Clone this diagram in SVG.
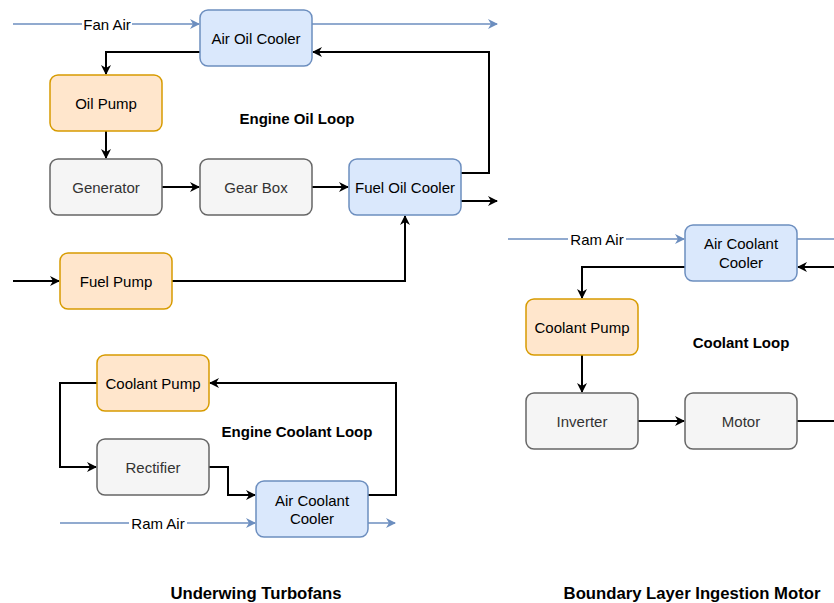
<svg xmlns="http://www.w3.org/2000/svg" width="834" height="603" viewBox="0 0 834 603">
<defs>
<marker id="ab" viewBox="0 0 10 10" refX="9" refY="5" markerWidth="10" markerHeight="10" markerUnits="userSpaceOnUse" orient="auto">
<path d="M0,0 L10,5 L0,10 L3,5 Z" fill="#000"/>
</marker>
<marker id="au" viewBox="0 0 10 10" refX="9" refY="5" markerWidth="10" markerHeight="10" markerUnits="userSpaceOnUse" orient="auto">
<path d="M0,0 L10,5 L0,10 L3,5 Z" fill="#6c8ebf"/>
</marker>
<style>
.blue{fill:#dae8fc;stroke:#6c8ebf;stroke-width:1.5}
.orange{fill:#ffe6cc;stroke:#d79b00;stroke-width:1.5}
.gray{fill:#f5f5f5;stroke:#666666;stroke-width:1.5}
.t{font-family:"Liberation Sans",Arial,sans-serif;font-size:15px;text-anchor:middle;fill:#000}
.tg{fill:#333333}
.b{font-family:"Liberation Sans",Arial,sans-serif;font-weight:bold;text-anchor:middle;fill:#000}
.k{fill:none;stroke:#000;stroke-width:2;marker-end:url(#ab)}
.kn{fill:none;stroke:#000;stroke-width:2}
.air{fill:none;stroke:#6c8ebf;stroke-width:1.5;marker-end:url(#au)}
.lbl{fill:#fff}
</style>
</defs>
<g id="connectors">
<path class="air" d="M13,24 H199"/>
<rect class="lbl" x="82" y="16" width="50" height="16"/>
<text class="t" x="107" y="29.5">Fan Air</text>
<path class="air" d="M312,24 H497"/>
<path class="k" d="M200,52 H106 V74"/>
<path class="k" d="M106,131 V158"/>
<path class="k" d="M162,187 H199"/>
<path class="k" d="M312,187 H348"/>
<path class="k" d="M461,173 H489 V52 H313"/>
<path class="k" d="M461,201 H497"/>
<path class="k" d="M13,281 H59"/>
<path class="k" d="M172,281 H405 V216"/>
<path class="air" d="M508,239 H684"/>
<rect class="lbl" x="568" y="231" width="58" height="16"/>
<text class="t" x="597" y="244.5">Ram Air</text>
<path class="air" d="M797,239 H845"/>
<path class="k" d="M840,267 H798"/>
<path class="k" d="M685,267 H582 V298"/>
<path class="k" d="M582,355 V392"/>
<path class="k" d="M638,421 H684"/>
<path class="kn" d="M797,421 H840"/>
<path class="k" d="M97,383 H60 V467 H96"/>
<path class="k" d="M209,467 H228 V495 H255"/>
<path class="k" d="M368,495 H396 V383 H210"/>
<path class="air" d="M60,523 H255"/>
<rect class="lbl" x="129" y="515" width="58" height="16"/>
<text class="t" x="158" y="528.5">Ram Air</text>
<path class="air" d="M368,523 H395"/>
</g>
<g id="air-oil-cooler"><rect class="blue" x="200" y="10" width="112" height="56" rx="8"/><text class="t" x="256" y="43.5">Air Oil Cooler</text></g>
<g id="oil-pump"><rect class="orange" x="50" y="75" width="112" height="56" rx="8"/><text class="t" x="106" y="108.5">Oil Pump</text></g>
<g id="generator"><rect class="gray" x="50" y="159" width="112" height="56" rx="8"/><text class="t tg" x="106" y="192.5">Generator</text></g>
<g id="gear-box"><rect class="gray" x="200" y="159" width="112" height="56" rx="8"/><text class="t tg" x="256" y="192.5">Gear Box</text></g>
<g id="fuel-oil-cooler"><rect class="blue" x="349" y="159" width="112" height="56" rx="8"/><text class="t" x="405" y="192.5">Fuel Oil Cooler</text></g>
<g id="fuel-pump"><rect class="orange" x="60" y="253" width="112" height="56" rx="8"/><text class="t" x="116" y="286.5">Fuel Pump</text></g>
<g id="engine-oil-loop"><text class="b" x="297" y="123.5" font-size="15">Engine Oil Loop</text></g>
<g id="coolant-pump-1"><rect class="orange" x="97" y="355" width="112" height="56" rx="8"/><text class="t" x="153" y="388.5">Coolant Pump</text></g>
<g id="rectifier"><rect class="gray" x="97" y="439" width="112" height="56" rx="8"/><text class="t tg" x="153" y="472.5">Rectifier</text></g>
<g id="air-coolant-cooler-1"><rect class="blue" x="256" y="481" width="112" height="56" rx="8"/><text class="t" x="312" y="506">Air Coolant</text><text class="t" x="312" y="524">Cooler</text></g>
<g id="engine-coolant-loop"><text class="b" x="297" y="436.5" font-size="15">Engine Coolant Loop</text></g>
<g id="air-coolant-cooler-2"><rect class="blue" x="685" y="225" width="112" height="56" rx="8"/><text class="t" x="741" y="249">Air Coolant</text><text class="t" x="741" y="268">Cooler</text></g>
<g id="coolant-pump-2"><rect class="orange" x="526" y="299" width="112" height="56" rx="8"/><text class="t" x="582" y="332.5">Coolant Pump</text></g>
<g id="inverter"><rect class="gray" x="526" y="393" width="112" height="56" rx="8"/><text class="t tg" x="582" y="426.5">Inverter</text></g>
<g id="motor"><rect class="gray" x="685" y="393" width="112" height="56" rx="8"/><text class="t tg" x="741" y="426.5">Motor</text></g>
<g id="coolant-loop"><text class="b" x="741" y="347.5" font-size="15">Coolant Loop</text></g>
<g id="titles">
<text class="b" x="256" y="599" font-size="16.7">Underwing Turbofans</text>
<text class="b" x="692" y="599" font-size="16.7">Boundary Layer Ingestion Motor</text>
</g>
</svg>
